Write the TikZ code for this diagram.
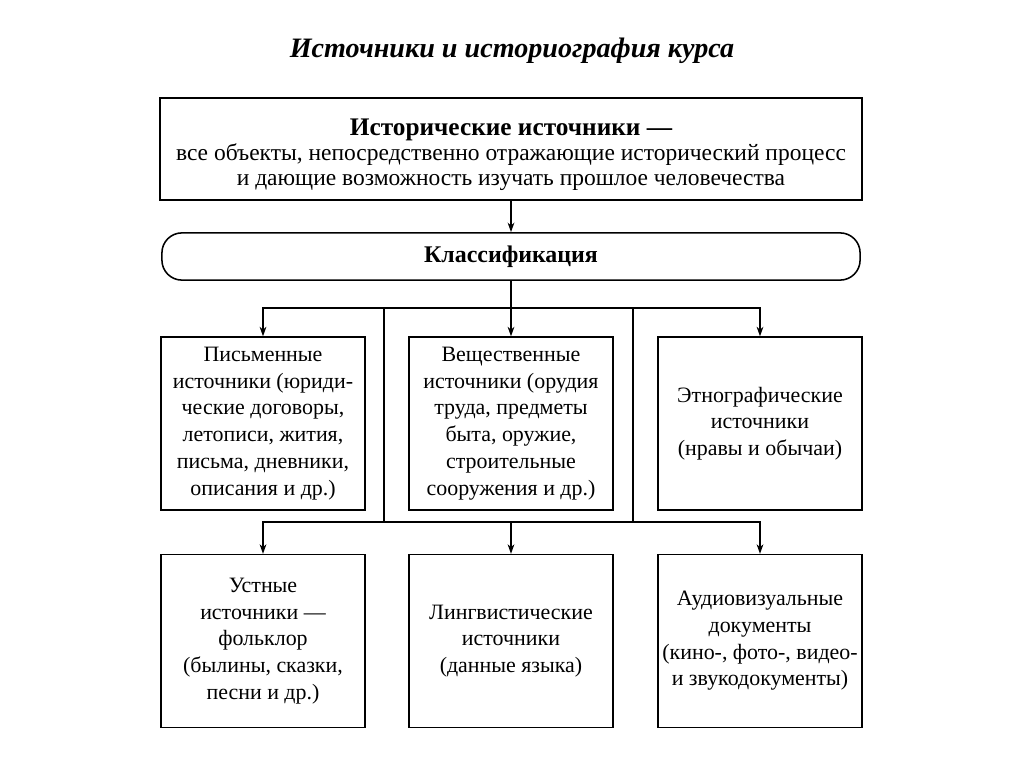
\documentclass[tikz,border=0pt]{standalone}
\usepackage{fontspec}
\setmainfont{Liberation Serif}
\usetikzlibrary{arrows.meta}
\begin{document}
\begin{tikzpicture}[x=0.025cm,y=-0.025cm,
    frame/.style={draw,line width=1.1pt,align=center},
    kind/.style={frame,minimum width=5.1cm,minimum height=4.32cm,inner sep=1pt,
      font=\fontsize{15.6}{19}\selectfont},
    link/.style={line width=0.9pt},
    arr/.style={link,-{Stealth[length=2.4mm,width=1.7mm]}}]
  \useasboundingbox (0,0) rectangle (1024,767);
  \node (title) at (512,51) {\fontsize{20}{24}\selectfont\bfseries\itshape Источники и историография курса};
  \node[frame,minimum width=17.55cm,minimum height=2.55cm,font=\fontsize{16.7}{17.8}\selectfont] (src) at (511,149)
    {{\fontsize{18}{17.8}\selectfont\bfseries\rule{0pt}{20pt}Исторические источники —}\\
     все объекты, непосредственно отражающие исторический процесс\\
     и дающие возможность изучать прошлое человечества};
  \node[frame,rounded corners=0.5cm,minimum width=17.45cm,minimum height=1.18cm,
    font=\fontsize{17}{20}\selectfont\bfseries] (cls) at (511,256.5) {Классификация};
  % first row
  \node[kind] (pis) at (263,423.5) {Письменные\\источники (юриди-\\ческие договоры,\\летописи, жития,\\письма, дневники,\\описания и др.)};
  \node[kind] (vesh) at (511,423.5) {Вещественные\\источники (орудия\\труда, предметы\\быта, оружие,\\строительные\\сооружения и др.)};
  \node[kind] (eth) at (760,423.5) {Этнографические\\источники\\(нравы и обычаи)};
  % second row
  \node[kind] (ust) at (263,641) {Устные\\источники —\\фольклор\\(былины, сказки,\\песни и др.)};
  \node[kind] (lin) at (511,641) {Лингвистические\\источники\\(данные языка)};
  \node[kind] (aud) at (760,641) {Аудиовизуальные\\документы\\(кино-, фото-, видео-\\и звукодокументы)};
  \coordinate (h1) at (511,308);
  \coordinate (h2) at (511,522);
  \coordinate (j1) at (384,308);
  \coordinate (k1) at (384,522);
  \coordinate (j2) at (633,308);
  \coordinate (k2) at (633,522);
  \draw[arr] (src) -- (cls);
  \draw[link] (cls) -- (h1);
  \draw[link] (j1) -- (k1);
  \draw[link] (j2) -- (k2);
  \foreach \hub/\a/\b/\c in {h1/pis/vesh/eth,h2/ust/lin/aud}{
    \draw[arr] (\hub) -| (\a.north);
    \draw[arr] (\hub) -- (\b.north);
    \draw[arr] (\hub) -| (\c.north);
  }
\end{tikzpicture}
\end{document}
